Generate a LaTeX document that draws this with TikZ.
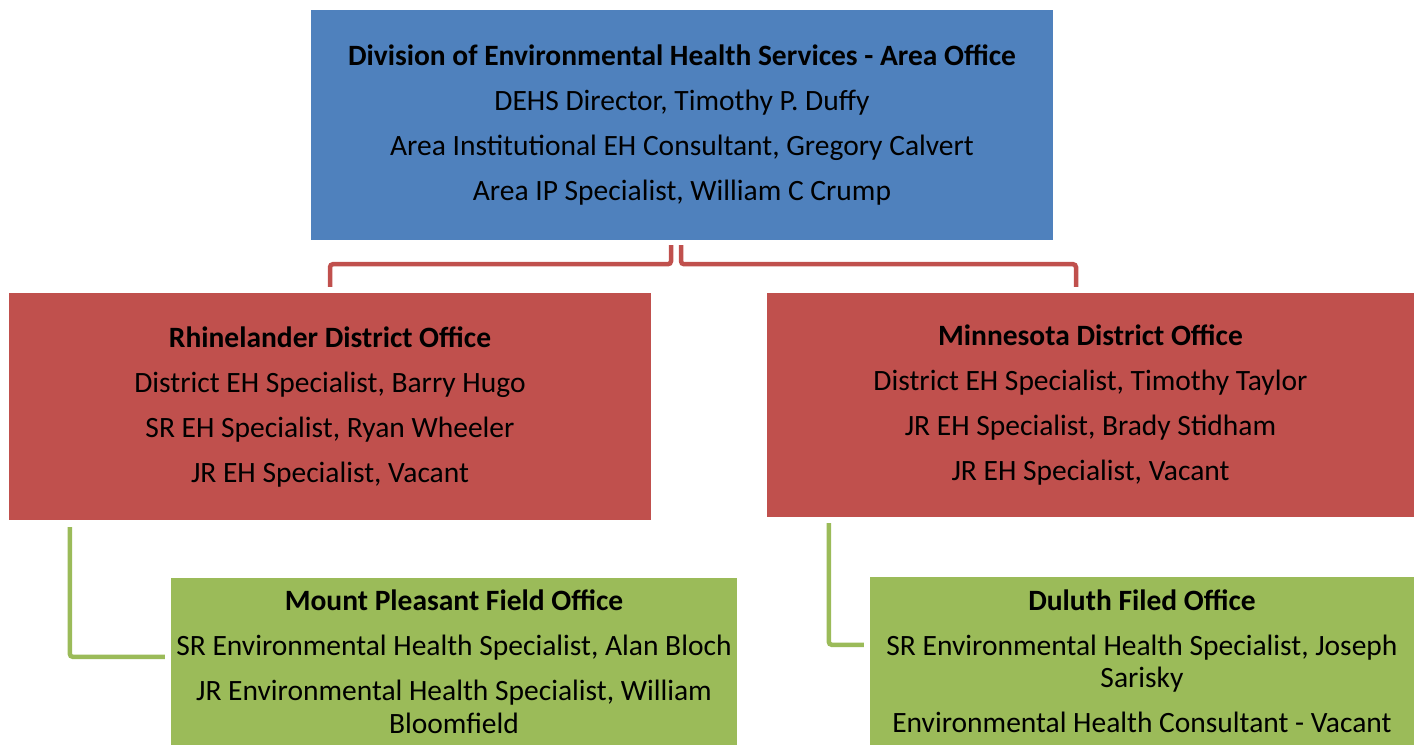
\documentclass[tikz,border=0pt]{standalone}
\usepackage{fontspec}
\setmainfont{Carlito}
\usepackage{xcolor}
\definecolor{dehsblue}{HTML}{4F81BD}
\definecolor{dehsred}{HTML}{C0504D}
\definecolor{dehsgreen}{HTML}{9BBB59}

\begin{document}
\begin{tikzpicture}[
  x=1pt,y=-1pt,
  every node/.style={align=center,inner sep=0pt,font=\fontsize{29.5}{32.5}\selectfont},%
  b/.style={fill=dehsblue},%
  r/.style={fill=dehsred},%
  g/.style={fill=dehsgreen},%
  er/.style={line width=4.5pt,rounded corners=3pt,dehsred},%
  eg/.style={line width=4.5pt,rounded corners=3pt,dehsgreen},%
  ]

  \clip (0,0) rectangle (1421,745);

  \node (area) [b,
  minimum width=742pt,minimum height=230pt,
  ] at (682,125) {\textbf{Division of Environmental Health Services - Area Office}\\[12.5pt]
  DEHS Director, Timothy P. Duffy\\[12.5pt]
  Area Institutional EH Consultant, Gregory Calvert\\[12.5pt]
  Area IP Specialist, William C Crump};

  \node (rhine) [r,
  minimum width=642pt,minimum height=227pt,
  ] at (330,406.5) {\textbf{Rhinelander District Office}\\[12.5pt]
  District EH Specialist, Barry Hugo\\[12.5pt]
  SR EH Specialist, Ryan Wheeler\\[12.5pt]
  JR EH Specialist, Vacant};

  \node (minn) [r,
  minimum width=647pt,minimum height=224pt,
  ] at (1090.5,405) {\textbf{Minnesota District Office}\\[12.5pt]
  District EH Specialist, Timothy Taylor\\[12.5pt]
  JR EH Specialist, Brady Stidham\\[12.5pt]
  JR EH Specialist, Vacant};

  \node (pleasant) [g,
  minimum width=566pt,minimum height=167pt,
  ] at (454,661.5) {\textbf{Mount Pleasant Field Office}\\[12.5pt]
  SR Environmental Health Specialist, Alan Bloch\\[12.5pt]
  JR Environmental Health Specialist, William\\
  Bloomfield};

  \node (duluth) [g,
  minimum width=544pt,minimum height=168pt,
  ] at (1142,661) {\textbf{Duluth Filed Office}\\[12.5pt]
  SR Environmental Health Specialist, Joseph\\
  Sarisky\\[12.5pt]
  Environmental Health Consultant - Vacant};

  \draw [er] ([xshift=-11pt,yshift=-5pt]area.south) -- ++(0,19)
  -| ([yshift=6pt]rhine.north);
  \draw [er] ([xshift=-1pt,yshift=-5pt]area.south) -- ++(0,19)
  -| ([xshift=-14.5pt,yshift=6pt]minn.north);
  \draw [eg] ([xshift=61pt,yshift=-7pt]rhine.south west)
  |- ([xshift=-6pt,yshift=-79pt]pleasant.north west);
  \draw [eg] ([xshift=62pt,yshift=-6pt]minn.south west)
  |- ([xshift=-6pt,yshift=-68pt]duluth.north west);
\end{tikzpicture}
\end{document}
